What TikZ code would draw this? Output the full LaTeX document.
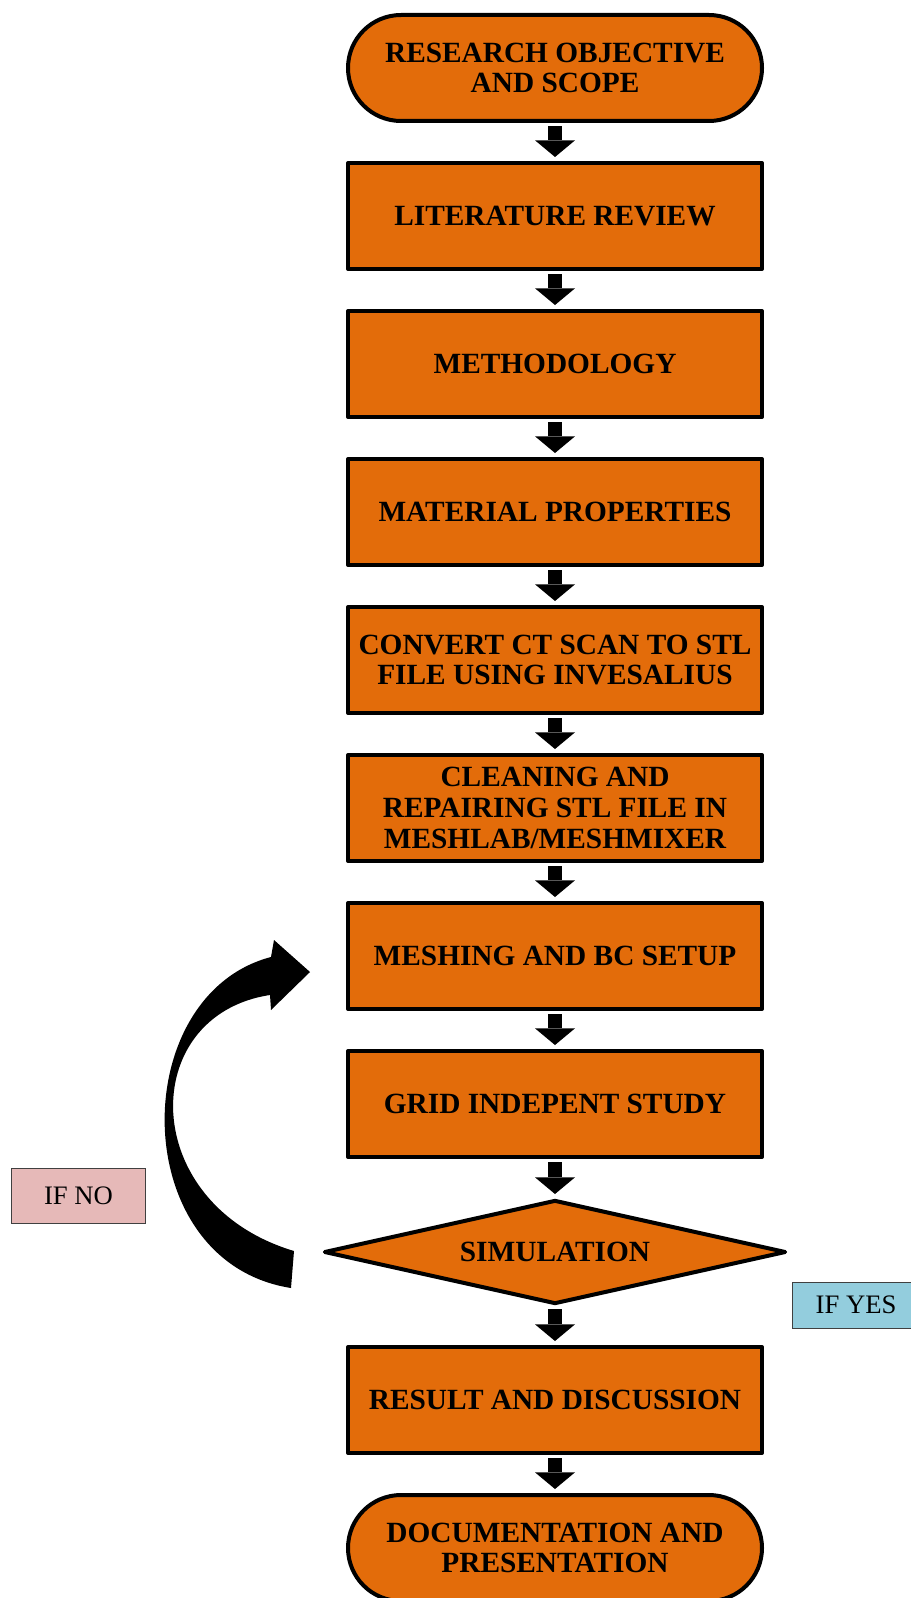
\documentclass[tikz,border=0pt]{standalone}
\usepackage{fontspec}
\setmainfont{Liberation Serif}
\usepackage{tikz}
\usetikzlibrary{arrows.meta,calc,shapes.geometric,shapes.misc}
\definecolor{steporange}{HTML}{E36C0A}
\definecolor{nopink}{HTML}{E6B9B8}
\definecolor{yesblue}{HTML}{93CDDD}

\begin{document}
\begin{tikzpicture}[x=0.75pt,y=0.75pt,yscale=-1,
        box/.style={draw=black, fill=steporange, line width=3pt, line join=round, rectangle, minimum width=310.5pt, minimum height=79.5pt, inner sep=0pt, align=center, font=\bfseries\fontsize{22}{23}\selectfont},
        term/.style={box, rounded rectangle},
        decide/.style={box, diamond, aspect=4.44, minimum width=346.5pt, minimum height=78pt},
        note/.style={draw=black!75, line width=0.75pt, minimum width=100.5pt, minimum height=41pt, inner sep=0pt, font=\fontsize{20}{22}\selectfont},
        flow/.style={line width=10.5pt, shorten <=2.5pt, shorten >=3pt, -{Triangle[length=12.5pt, width=30pt, line width=0pt]}}]
        \useasboundingbox (0,0) rectangle (910,1598);
        %%Steps
        \node[term] (objective) at (555,68) {RESEARCH OBJECTIVE\\AND SCOPE};
        \node[box] (review) at (555,216) {LITERATURE REVIEW};
        \node[box] (method) at (555,364) {METHODOLOGY};
        \node[box] (material) at (555,512) {MATERIAL PROPERTIES};
        \node[box] (convert) at (555,660) {CONVERT CT SCAN TO STL\\FILE USING INVESALIUS};
        \node[box] (clean) at (555,808) {CLEANING AND\\REPAIRING STL FILE IN\\MESHLAB/MESHMIXER};
        \node[box] (mesh) at (555,956) {MESHING AND BC SETUP};
        \node[box] (grid) at (555,1104) {GRID INDEPENT STUDY};
        \node[decide] (sim) at (555,1252) {SIMULATION};
        \node[box] (result) at (555,1400) {RESULT AND DISCUSSION};
        \node[term] (docu) at (555,1548) {DOCUMENTATION AND\\PRESENTATION};
        %%Arrows
        \draw[flow] (objective.south) to (review.north);
        \draw[flow] (review.south) to (method.north);
        \draw[flow] (method.south) to (material.north);
        \draw[flow] (material.south) to (convert.north);
        \draw[flow] (convert.south) to (clean.north);
        \draw[flow] (clean.south) to (mesh.north);
        \draw[flow] (mesh.south) to (grid.north);
        \draw[flow] (grid.south) to (sim.north);
        \draw[flow] (sim.south) to (result.north);
        \draw[flow] (result.south) to (docu.north);
        %%Loop_back
        \fill ($(sim.west)+(-31,36)$) .. controls +(-165,-26) and +(-145,38) .. ($(mesh.west)+(-75,1)$)
        -- ++(3,-17) -- ($(mesh.west)+(-36,16)$) -- ($(mesh.west)+(-75,54)$) -- ++(-1,-15)
        .. controls +(-133,20) and +(-157,-47) .. ($(sim.west)+(-28,-1)$) -- cycle;
        %%Notes
        \node[note, fill=nopink] (ifno) at (78.5,1196) {IF NO};
        \node[note, fill=yesblue, minimum width=95pt, minimum height=34.5pt] (ifyes) at (856,1305) {IF YES};
\end{tikzpicture}
\end{document}
